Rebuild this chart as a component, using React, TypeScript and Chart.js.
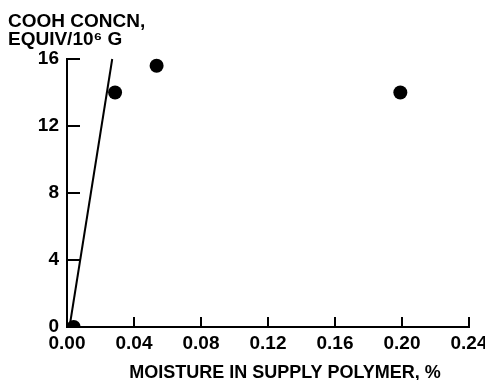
import React, { useEffect, useRef } from "react";
import { Chart, registerables } from "chart.js";

Chart.register(...registerables);

// Measured data points
const moisturePct = [0.004, 0.0287, 0.0535, 0.199];
const coohConc = [0, 14.0, 15.6, 14.0];

// Straight line drawn on the plot
const lineMoisture = [0.0015, 0.027];
const lineCooh = [0, 16];

const xTickStep = 0.04;
const yTickStep = 4;
const yTitleLines = ["COOH CONCN,", "EQUIV/10\u2076 G"];
const xTitle = "MOISTURE IN SUPPLY POLYMER, %";

const FONT = "'Liberation Sans', Arial, sans-serif";

const textPlugin = {
  id: "axisTexts",
  afterDraw(chart: any) {
    const ctx = chart.ctx;
    ctx.save();
    ctx.fillStyle = "#000";
    ctx.font = `bold 19px ${FONT}`;
    ctx.textAlign = "left";
    ctx.textBaseline = "alphabetic";
    ctx.fillText(yTitleLines[0], 8, 27);
    ctx.fillText(yTitleLines[1], 8, 45);
    ctx.font = `bold 18px ${FONT}`;
    ctx.textAlign = "center";
    ctx.fillText(xTitle, 285, 378);
    ctx.restore();
  },
};

export default function App() {
  const ref = useRef<HTMLCanvasElement | null>(null);
  useEffect(() => {
    if (!ref.current) return;
    const chart = new Chart(ref.current, {
      type: "scatter",
      data: {
        datasets: [
          {
            label: "points",
            data: moisturePct.map((x, i) => ({ x, y: coohConc[i] })),
            backgroundColor: "#000",
            borderColor: "#000",
            borderWidth: 0,
            pointRadius: 7,
            clip: { left: 0, bottom: 0, top: 10, right: 10 } as any,
          },
          {
            label: "line",
            data: lineMoisture.map((x, i) => ({ x, y: lineCooh[i] })),
            showLine: true,
            borderColor: "#000",
            borderWidth: 2,
            pointRadius: 0,
            clip: false as any,
          },
        ],
      },
      plugins: [textPlugin],
      options: {
        responsive: false,
        animation: false,
        devicePixelRatio: 1,
        layout: { padding: { left: 0, top: 59, right: 16, bottom: 0 } },
        plugins: {
          legend: { display: false },
          tooltip: { enabled: false },
          title: { display: false },
        },
        scales: {
          x: {
            type: "linear",
            min: 0,
            max: 0.24,
            afterFit: (s: any) => {
              s.height = 53;
              s.paddingLeft = 0;
              s.paddingRight = 0;
            },
            ticks: {
              stepSize: xTickStep,
              color: "#000",
              font: { family: FONT, size: 19, weight: "bold" },
              padding: 15,
              maxRotation: 0,
              autoSkip: false,
              callback: (v: any) => Number(v).toFixed(2),
            },
            grid: {
              display: true,
              drawOnChartArea: false,
              drawTicks: true,
              tickLength: -10,
              color: "#000",
              lineWidth: 2,
            },
            border: { display: true, color: "#000", width: 2 },
          },
          y: {
            type: "linear",
            min: 0,
            max: 16,
            afterFit: (s: any) => {
              s.width = 67;
              s.paddingTop = 0;
              s.paddingBottom = 0;
            },
            ticks: {
              stepSize: yTickStep,
              color: "#000",
              font: { family: FONT, size: 19, weight: "bold" },
              padding: 21,
              autoSkip: false,
              callback: (v: any) => String(v),
            },
            grid: {
              display: true,
              drawOnChartArea: false,
              drawTicks: true,
              tickLength: -13,
              color: "#000",
              lineWidth: 2,
            },
            border: { display: true, color: "#000", width: 2 },
          },
        },
      },
    });
    return () => chart.destroy();
  }, []);
  return (
    <div style={{ position: "absolute", left: 0, top: 0, width: 485, height: 380, background: "#fff" }}>
      <canvas ref={ref} width={485} height={380} />
    </div>
  );
}
